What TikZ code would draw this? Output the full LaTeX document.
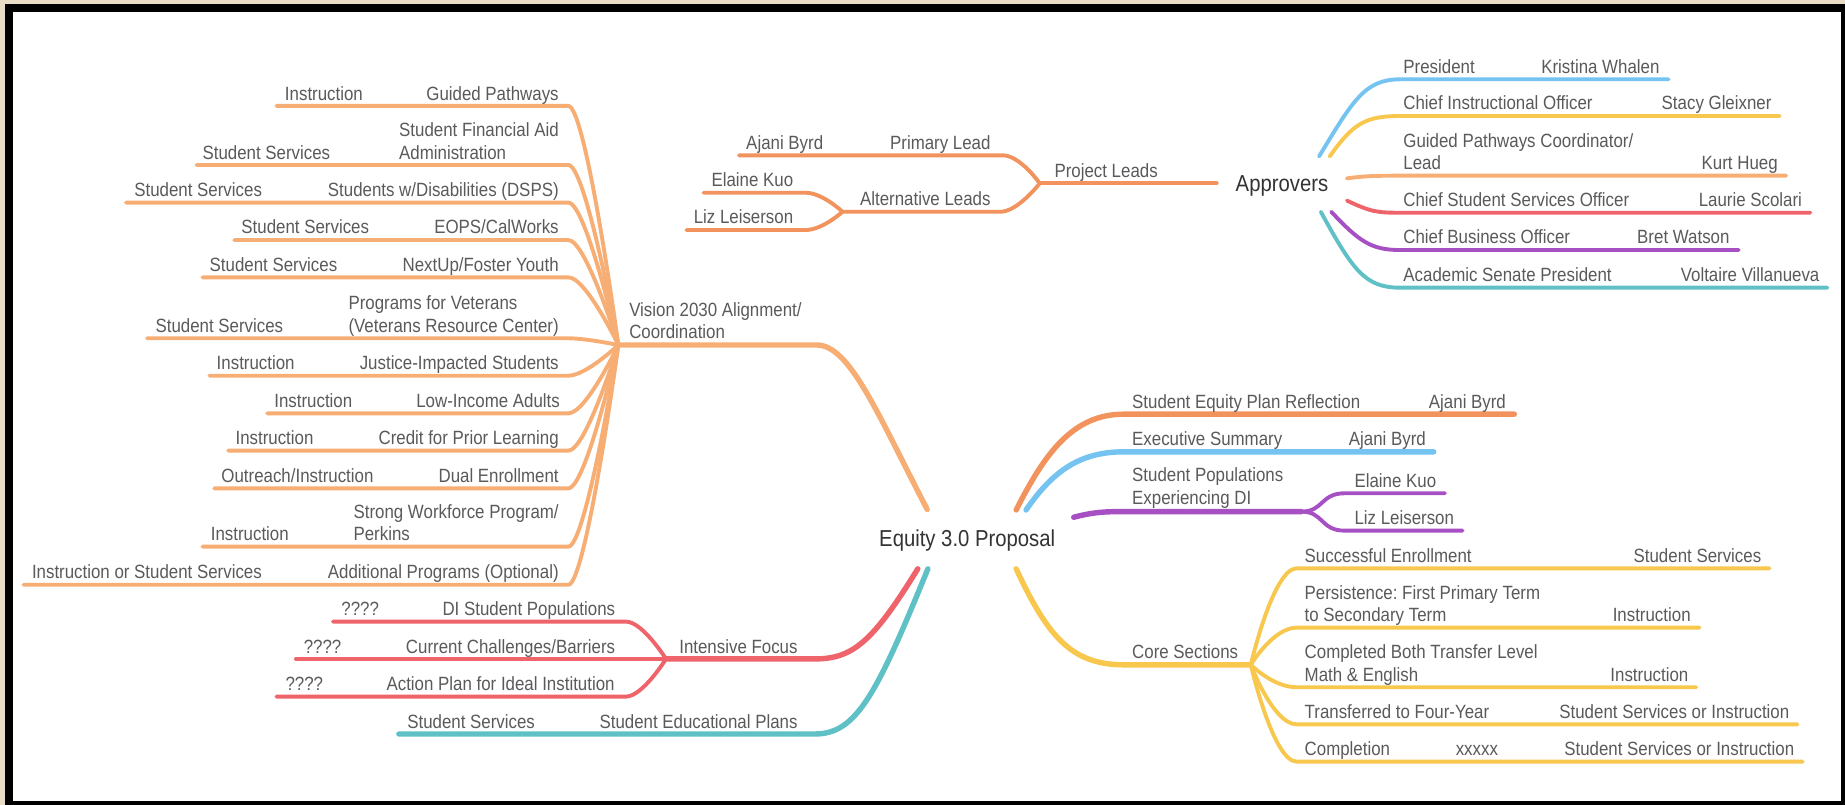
\documentclass[tikz,border=0pt]{standalone}
\usepackage{fontspec}
\newfontfamily\lblf[FakeStretch=0.88]{Liberation Sans}
\definecolor{vis}{HTML}{F7AE74}
\definecolor{plo}{HTML}{F2935E}
\definecolor{blu}{HTML}{74C3F1}
\definecolor{yel}{HTML}{F8C84E}
\definecolor{rdd}{HTML}{EF636B}
\definecolor{pur}{HTML}{A650C3}
\definecolor{tea}{HTML}{5FC1C6}
\definecolor{txt}{HTML}{5A5A5A}
\definecolor{txtd}{HTML}{333333}
\definecolor{beige}{HTML}{E8DCC6}
\frenchspacing
\begin{document}
\begin{tikzpicture}[x=1pt,y=-1pt,
  lbl/.style={font=\lblf\fontsize{16.3}{19}\selectfont, text=txt, inner sep=0pt},
  big/.style={font=\lblf\fontsize{19.6}{23}\selectfont, text=txtd, inner sep=0pt},
  br/.style={line width=3.3pt, line cap=round},
  mb/.style={line width=4.6pt, line cap=round},
  le/.style={lbl, anchor=base east},
  lw/.style={lbl, anchor=base west}]
% frame
\fill[beige] (0,0) rectangle (1568,684);
\fill[black] (4,3) rectangle (1568,684);
\fill[white] (11,10) rectangle (1565,681);
\useasboundingbox (0,0) rectangle (1568,684);

% central topics
\node[big, anchor=base] (eq) at (822,464.6) {Equity 3.0 Proposal};
\node[big, anchor=base west] (ap) at (1050,163) {Approvers};

% ---------- Vision 2030 tree ----------
\coordinate (V) at (525.5,293.2);
\foreach \yy/\xl in {90/235, 140.2/167, 172.2/107, 204/199, 235.7/172, 287.5/125, 319.3/178, 351.3/227, 383/194, 415/182, 464.6/172, 497/20}
  \draw[br, vis] (\xl,\yy) -- (483,\yy) .. controls (498,\yy) and (V) .. (V);
\coordinate (eqV) at (788,433);
\draw[mb, vis] (V) -- (694,293.2) .. controls (722,293.2) and (745,350) .. (eqV);
\node[lw, align=left] (vis) at (534.6,288) {Vision 2030 Alignment/\\Coordination};

\node[le] (gp) at (475,85) {Guided Pathways};
\node[lw] (gpi) at (242,85) {Instruction};
\node[le, align=left] (sfa) at (475,135.2) {Student Financial Aid\\Administration};
\node[lw] (sfai) at (172,135.2) {Student Services};
\node[le] (dsps) at (475,167) {Students w/Disabilities (DSPS)};
\node[lw] (dspsi) at (114,167) {Student Services};
\node[le] (eops) at (475,198.8) {EOPS/CalWorks};
\node[lw] (eopsi) at (205,198.8) {Student Services};
\node[le] (nxt) at (475,230.5) {NextUp/Foster Youth};
\node[lw] (nxti) at (178,230.5) {Student Services};
\node[le, align=left] (vet) at (475,282.3) {Programs for Veterans\\(Veterans Resource Center)};
\node[lw] (veti) at (132,282.3) {Student Services};
\node[le] (jus) at (475,314) {Justice-Impacted Students};
\node[lw] (jusi) at (184,314) {Instruction};
\node[le] (low) at (476,346) {Low-Income Adults};
\node[lw] (lowi) at (233,346) {Instruction};
\node[le] (cpl) at (475,377.8) {Credit for Prior Learning};
\node[lw] (cpli) at (200,377.8) {Instruction};
\node[le] (dual) at (475,409.8) {Dual Enrollment};
\node[lw] (duali) at (188,409.8) {Outreach/Instruction};
\node[le, align=left] (swp) at (475,459.5) {Strong Workforce Program/\\Perkins};
\node[lw] (swpi) at (179,459.5) {Instruction};
\node[le] (add) at (475,491.8) {Additional Programs (Optional)};
\node[lw] (addi) at (27,491.8) {Instruction or Student Services};

% ---------- Intensive Focus ----------
\coordinate (I) at (566,560);
\draw[mb, rdd] (780,483.4) .. controls (742,545) and (725,560) .. (692.5,560) -- (I);
\draw[br, rdd] (283,528.3) -- (532,528.3) .. controls (546,528.3) and (I) .. (I);
\draw[br, rdd] (251.5,560) -- (I);
\draw[br, rdd] (235,592) -- (532,592) .. controls (546,592) and (I) .. (I);
\node[le] (if) at (678,555) {Intensive Focus};
\node[le] (di) at (523,523.3) {DI Student Populations};
\node[lw] (diq) at (290,523.3) {????};
\node[le] (cc) at (523,555) {Current Challenges/Barriers};
\node[lw] (ccq) at (258,555) {????};
\node[le] (apl) at (522.5,587) {Action Plan for Ideal Institution};
\node[lw] (aplq) at (242.5,587) {????};

% ---------- Student Educational Plans ----------
\draw[mb, tea] (788.6,483.4) .. controls (745,590) and (728,623.8) .. (692.5,623.8) -- (339,623.8);
\node[le] (sep) at (678,618.7) {Student Educational Plans};
\node[lw] (sepi) at (346,618.7) {Student Services};

% ---------- right side ----------
\draw[mb, plo] (863.6,433.4) .. controls (888,385) and (912,352) .. (955,352) -- (1287,352);
\node[lw] (sepr) at (962,347) {Student Equity Plan Reflection};
\node[le] (sepra) at (1280,347) {Ajani Byrd};

\draw[mb, blu] (872,433.4) .. controls (895,400) and (918,384) .. (955,384) -- (1218.5,384);
\node[lw] (es) at (962,378.5) {Executive Summary};
\node[le] (esa) at (1212,378.5) {Ajani Byrd};

\coordinate (P) at (1106,434.8);
\draw[mb, pur] (912.5,439.6) .. controls (930,435) and (940,434.8) .. (955,434.8) -- (P);
\draw[br, pur] (P) .. controls (1125,434.8) and (1122,419.2) .. (1143,419.2) -- (1228,419.2);
\draw[br, pur] (P) .. controls (1125,434.8) and (1122,451) .. (1143,451) -- (1243,451);
\node[lw, align=left] (spe) at (962,428.5) {Student Populations\\Experiencing DI};
\node[lw] (spe1) at (1151,414) {Elaine Kuo};
\node[lw] (spe2) at (1151,445.7) {Liz Leiserson};

\coordinate (C) at (1063,565);
\draw[mb, yel] (863.6,483.4) .. controls (890,540) and (910,565) .. (955,565) -- (C);
\foreach \yy/\xr in {483/1503.8, 533.4/1444.3, 584.1/1441.5, 615.6/1527.6, 647.3/1532}
  \draw[br, yel] (C) .. controls (C) and (1082,\yy) .. (1102,\yy) -- (\xr,\yy);
\node[lw] (core) at (962,559.8) {Core Sections};
\node[lw] (se) at (1108.6,477.7) {Successful Enrollment};
\node[le] (sei) at (1497,477.7) {Student Services};
\node[lw, align=left] (per) at (1108.6,528.1) {Persistence: First Primary Term\\to Secondary Term};
\node[le] (peri) at (1437,528.1) {Instruction};
\node[lw, align=left] (cbt) at (1108.6,578.8) {Completed Both Transfer Level\\Math \& English};
\node[le] (cbti) at (1435,578.8) {Instruction};
\node[lw] (tfy) at (1108.6,610.3) {Transferred to Four-Year};
\node[le] (tfyi) at (1520.8,610.3) {Student Services or Instruction};
\node[lw] (cmp) at (1108.6,642) {Completion};
\node[lw] (cmpx) at (1237,642) {xxxxx};
\node[le] (cmpi) at (1525,642) {Student Services or Instruction};

% ---------- Approvers ----------
\draw[br, blu] (1121,133) .. controls (1150,85) and (1160,67.4) .. (1190,67.4) -- (1418,67.4);
\draw[br, yel] (1130,133) .. controls (1150,105) and (1160,98.6) .. (1190,98.6) -- (1512.5,98.6);
\draw[br, vis] (1144.7,151.6) .. controls (1160,149.5) and (1170,149.3) .. (1190,149.3) -- (1518,149.3);
\draw[br, rdd] (1144.7,170.5) .. controls (1165,180) and (1170,180.8) .. (1190,180.8) -- (1538.5,180.8);
\draw[br, pur] (1131.4,180) .. controls (1155,205) and (1165,212.5) .. (1190,212.5) -- (1477.6,212.5);
\draw[br, tea] (1122.5,180) .. controls (1150,230) and (1160,244.5) .. (1190,244.5) -- (1553,244.5);
\node[lw] (pres) at (1192.5,62.1) {President};
\node[le] (presn) at (1410.5,62.1) {Kristina Whalen};
\node[lw] (cio) at (1192.5,93.3) {Chief Instructional Officer};
\node[le] (cion) at (1505.7,93.3) {Stacy Gleixner};
\node[lw, align=left] (gpc) at (1192.5,144) {Guided Pathways Coordinator/\\Lead};
\node[le] (gpcn) at (1511,144) {Kurt Hueg};
\node[lw] (csso) at (1192.5,175.5) {Chief Student Services Officer};
\node[le] (csson) at (1531.6,175.5) {Laurie Scolari};
\node[lw] (cbo) at (1192.5,207.2) {Chief Business Officer};
\node[le] (cbon) at (1470,207.2) {Bret Watson};
\node[lw] (asp) at (1192.5,239.2) {Academic Senate President};
\node[le] (aspn) at (1546.4,239.2) {Voltaire Villanueva};

% ---------- Project Leads ----------
\coordinate (J) at (883.6,155.8);
\coordinate (A) at (716,180);
\draw[br, plo] (J) -- (1034,155.8);
\draw[br, plo] (628,132) -- (852,132) .. controls (867,132) and (J) .. (J);
\draw[br, plo] (A) -- (850,180) .. controls (865,180) and (J) .. (J);
\draw[br, plo] (598,163.8) -- (684.5,163.8) .. controls (699,163.8) and (A) .. (A);
\draw[br, plo] (583.4,195.5) -- (684.5,195.5) .. controls (699,195.5) and (A) .. (A);
\node[lw] (pl) at (896,150.5) {Project Leads};
\node[le] (prl) at (842,126.7) {Primary Lead};
\node[lw] (prla) at (634,126.7) {Ajani Byrd};
\node[le] (alt) at (842,174.7) {Alternative Leads};
\node[lw] (alt1) at (604.5,158.5) {Elaine Kuo};
\node[lw] (alt2) at (589.4,190.2) {Liz Leiserson};
\end{tikzpicture}
\end{document}
